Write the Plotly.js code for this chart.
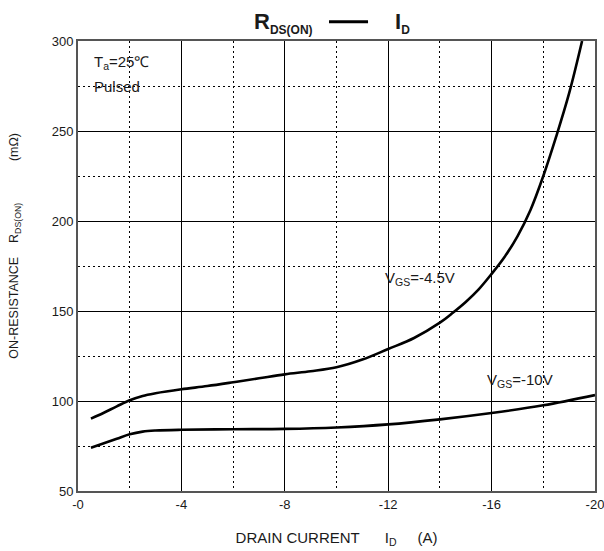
<!DOCTYPE html>
<html><head><meta charset="utf-8">
<script src="https://cdn.plot.ly/plotly-3.0.1.min.js"></script>
<style>html,body{margin:0;padding:0;background:#fff}#chart{width:604px;height:551px}</style>
</head><body><div id="chart"></div>
<script>
// Drain current (A) and on-resistance (mΩ)
const idVgs45 = [-0.5, -1, -1.5, -2, -2.5, -3, -4, -5, -6, -7, -8, -9, -10, -11, -12, -13, -14, -14.5, -15, -15.5, -16, -16.5, -17, -17.5, -18, -18.5, -19, -19.5];
const rdsVgs45 = [90.2, 93.5, 97, 100.4, 102.8, 104.3, 106.5, 108.3, 110.4, 112.6, 114.8, 116.5, 118.7, 123, 128.9, 135, 143.5, 149, 155, 162, 170.6, 180, 191.5, 206, 225, 247, 271, 300];
const idVgs10 = [-0.5, -1, -1.5, -2, -2.5, -3, -4, -6, -8, -10, -12, -14, -16, -18, -20];
const rdsVgs10 = [74, 76.5, 79, 81.5, 83, 83.6, 84, 84.3, 84.5, 85.3, 87, 89.8, 93.3, 97.6, 103.3];
const xTickVals = [0, -4, -8, -12, -16, -20];
const xTickText = ['-0', '-4', '-8', '-12', '-16', '-20'];
const yTickVals = [50, 100, 150, 200, 250, 300];

const font = 'Liberation Sans, Arial, sans-serif';
const txt = '#1a1a1a';
const dotted = '2px,3px';
const traces = [
  {x: idVgs45, y: rdsVgs45, mode: 'lines', line: {color: '#000', width: 2.6, shape: 'spline', smoothing: 1}, hoverinfo: 'skip'},
  {x: idVgs10, y: rdsVgs10, mode: 'lines', line: {color: '#000', width: 2.6, shape: 'spline', smoothing: 1}, hoverinfo: 'skip'}
];
const sp = n => '&nbsp;'.repeat(n);
const layout = {
  width: 604, height: 551,
  margin: {l: 78, r: 9, t: 41, b: 60},
  paper_bgcolor: '#fff', plot_bgcolor: '#fff',
  showlegend: false,
  font: {family: font, color: txt, size: 13},
  xaxis: {
    range: [0, -20], tickvals: xTickVals, ticktext: xTickText,
    showgrid: true, gridcolor: '#000', gridwidth: 1,
    minor: {dtick: 2, showgrid: true, gridcolor: '#000', gridwidth: 1, griddash: dotted},
    showline: true, linecolor: '#555', linewidth: 2, mirror: true,
    ticks: '', zeroline: false, tickfont: {size: 13, color: txt},
    ticklabeloverflow: 'allow',
    title: {text: 'DRAIN CURRENT' + sp(6) + 'I<sub>D</sub>' + sp(5) + '(A)', font: {size: 15, color: txt}, standoff: 22}
  },
  yaxis: {
    range: [50, 300], tickvals: yTickVals,
    showgrid: true, gridcolor: '#000', gridwidth: 1,
    minor: {dtick: 25, showgrid: true, gridcolor: '#000', gridwidth: 1, griddash: dotted},
    showline: true, linecolor: '#555', linewidth: 2, mirror: true,
    ticks: '', zeroline: false, tickfont: {size: 13, color: txt},
    ticklabeloverflow: 'allow'
  },
  shapes: [
    {type: 'line', xref: 'paper', yref: 'paper', x0: 0.4855, x1: 0.561, y0: 1.043, y1: 1.043, line: {color: '#000', width: 3}}
  ],
  annotations: [
    {xref: 'paper', yref: 'paper', x: 0.3366, y: 1.04, xanchor: 'left', yanchor: 'middle', showarrow: false,
     text: '<b>R<sub><span style="font-size:12px">DS(ON)</span></sub></b>', font: {size: 22, color: txt}},
    {xref: 'paper', yref: 'paper', x: 0.609, y: 1.04, xanchor: 'left', yanchor: 'middle', showarrow: false,
     text: '<b>I<sub><span style="font-size:12px">D</span></sub></b>', font: {size: 22, color: txt}},
    {xref: 'paper', yref: 'paper', x: -0.122, y: 0.545, xanchor: 'center', yanchor: 'middle', showarrow: false, textangle: -90,
     text: 'ON-RESISTANCE' + sp(4) + 'R<sub>DS(ON)</sub>' + sp(12) + '(mΩ)', font: {size: 12.5, color: txt}},
    {x: -0.55, y: 288, xanchor: 'left', yanchor: 'middle', showarrow: false,
     text: 'T<sub>a</sub>=25℃', font: {size: 15, color: txt}},
    {x: -0.55, y: 274.5, xanchor: 'left', yanchor: 'middle', showarrow: false,
     text: 'Pulsed', font: {size: 15, color: txt}},
    {x: -11.8, y: 168, xanchor: 'left', yanchor: 'middle', showarrow: false,
     text: 'V<sub>GS</sub>=-4.5V', font: {size: 15, color: txt}},
    {x: -15.75, y: 111.5, xanchor: 'left', yanchor: 'middle', showarrow: false,
     text: 'V<sub>GS</sub>=-10V', font: {size: 15, color: txt}}
  ]
};
Plotly.newPlot('chart', traces, layout, {displayModeBar: false, staticPlot: true});
</script>
</body></html>
